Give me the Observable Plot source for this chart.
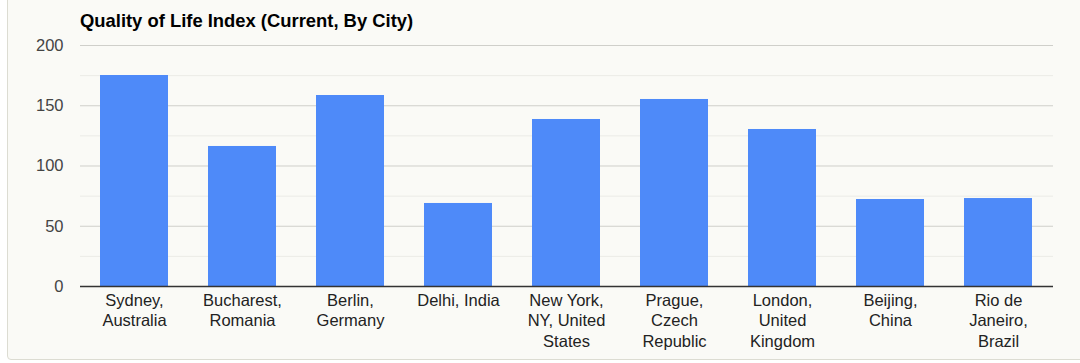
<!DOCTYPE html>
<html>
<head>
<meta charset="utf-8">
<script src="https://cdn.jsdelivr.net/npm/d3@7"></script>
<script src="https://cdn.jsdelivr.net/npm/@observablehq/plot@0.6"></script>
<style>
  html, body { margin: 0; padding: 0; background: #ffffff; width: 1080px; height: 363px; overflow: hidden; }
  #panel { position: absolute; left: 7px; top: -6px; width: 1090px; height: 366px; background: #fafaf6; border: 1px solid #dcdcd2; border-radius: 4px; box-sizing: border-box; }
  #title { position: absolute; left: 80px; top: 10px; font: bold 18.4px "Liberation Sans", Arial, sans-serif; color: #000; }
  #chart { position: absolute; left: 0; top: 0; }
  svg { font-family: "Liberation Sans", Arial, sans-serif; }
</style>
</head>
<body>
<div id="panel"></div>
<div id="title">Quality of Life Index (Current, By City)</div>
<div id="chart"></div>
<script>
const cities = ["Sydney, Australia", "Bucharest, Romania", "Berlin, Germany", "Delhi, India", "New York, NY, United States", "Prague, Czech Republic", "London, United Kingdom", "Beijing, China", "Rio de Janeiro, Brazil"];
const cityLabels = ["Sydney,\nAustralia", "Bucharest,\nRomania", "Berlin,\nGermany", "Delhi, India", "New York,\nNY, United\nStates", "Prague,\nCzech\nRepublic", "London,\nUnited\nKingdom", "Beijing,\nChina", "Rio de\nJaneiro,\nBrazil"];
const qualityIndex = [175.1, 116.2, 158.5, 68.9, 138.6, 155.2, 130.3, 72.2, 73.0];
const yTicks = [0, 50, 100, 150, 200];
const yMinor = [25, 75, 125, 175];

const data = cities.map((c, i) => ({city: c, value: qualityIndex[i]}));
const labelOf = new Map(cities.map((c, i) => [c, cityLabels[i]]));

const chart = Plot.plot({
  width: 1080,
  height: 363,
  marginLeft: 80,
  marginRight: 27,
  marginTop: 45,
  marginBottom: 77,
  style: {background: "transparent", fontFamily: "Liberation Sans, Arial, sans-serif"},
  x: {domain: cities, paddingInner: 0.37, paddingOuter: 0.185, axis: null, label: null},
  y: {domain: [0, 200], axis: null, label: null},
  marks: [
    Plot.ruleY(yMinor, {stroke: "#ebebe6", strokeWidth: 1}),
    Plot.ruleY(yTicks.filter(d => d > 0), {stroke: "#cfcfca", strokeWidth: 1}),
    Plot.barY(data, {x: "city", y: "value", fill: "#4e8af9"}),
    Plot.ruleY([0], {stroke: "#333", strokeWidth: 1.5}),
    Plot.axisY({ticks: yTicks, tickSize: 0, tickPadding: 17, fontSize: 16.5, color: "#444", label: null, tickFormat: d => d}),
    Plot.axisX({tickSize: 0, tickPadding: 5, fontSize: 16.5, color: "#222", lineHeight: 1.24, label: null, tickFormat: d => labelOf.get(d)})
  ]
});
document.getElementById("chart").appendChild(chart);
</script>
</body>
</html>
